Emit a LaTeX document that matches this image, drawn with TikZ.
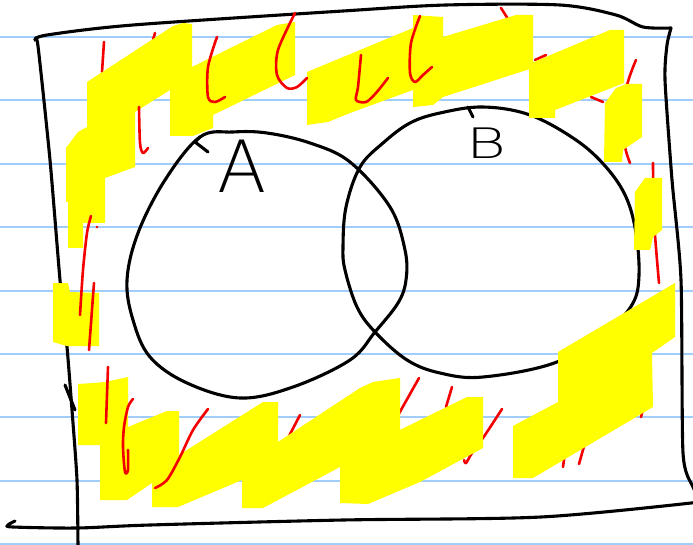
\documentclass[tikz,border=0pt]{standalone}
\usepackage{fontspec}
\newfontfamily\thinfont{DejaVu Sans ExtraLight}
\definecolor{rulecol}{RGB}{160,205,250}
\definecolor{redcol}{RGB}{245,0,0}
\definecolor{hlcol}{RGB}{255,255,0}
\begin{document}
\begin{tikzpicture}[x=1pt,y=-1pt,
  rule/.style={draw=rulecol, line width=1.8pt},
  ink/.style={draw=black, line width=3.1pt, line cap=round, line join=round},
  redink/.style={draw=redcol, line width=2.6pt, line cap=round, line join=round},
  hl/.style={fill=hlcol, draw=none},
  lettr/.style={inner sep=0pt, text=black}]
\useasboundingbox (0,0) rectangle (693,545);
\clip (0,0) rectangle (693,545);
\fill[white] (0,0) rectangle (693,545);
% ruled paper
\foreach \y in {37,100,164,227,291,354,417,481,544}
  \draw[rule] (0,\y) -- (693,\y);
% frame
\draw[ink] plot[smooth, tension=0.5] coordinates {(35,40) (47,35) (133,25) (343,11) (446,5) (560,5) (616,15) (643,27) (671,28)};
\draw[ink] plot[smooth, tension=0.4] coordinates {(671,28) (667,45) (665,80) (672,180) (681,280) (683,453) (693,487) (700,500)};
\draw[ink] plot[smooth, tension=0.5] coordinates {(700,502) (541,517) (343,520) (150,525) (77,528) (13,527) (8,525) (15,521)};
\draw[ink] plot[smooth, tension=0.4] coordinates {(35,40) (38,46) (50,160) (60,280) (67,347) (72,410) (77,480) (78,548)};
\draw[ink] (65,385) -- (75,410);
% circle A
\draw[ink] plot[smooth cycle, tension=0.6] coordinates {(200,137) (233,132) (267,133) (310,143) (350,162) (390,207) (405,250) (406,280) (398,303) (375,332) (350,360) (293,387) (240,398) (187,383) (150,357) (133,320) (127,280) (138,233) (165,180)};
\draw[ink] (200,137) -- (195,142) -- (208,152);
% circle B
\draw[ink] plot[smooth cycle, tension=0.6] coordinates {(440,113) (483,107) (530,115) (576,140) (606,167) (626,197) (636,233) (639,275) (633,303) (610,328) (557,362) (483,377) (440,373) (407,360) (375,332) (357,307) (345,270) (343,247) (346,207) (360,167) (383,143) (410,123)};
\draw[ink] (468,107) -- (473,117);
% labels
\node[lettr, font=\thinfont\fontsize{72}{72}\selectfont] (labA) at (242,166) {A};
\node[lettr, font=\thinfont\fontsize{42}{42}\selectfont, xscale=1.45] (labB) at (486,143) {B};
% red marks under the highlighter
\draw[redink] (104,42) -- (102,72);
\draw[redink] (155,33) -- (153,40);
\draw[redink] (501,8) -- (508,19);
\draw[redink] (535,60) -- (546,55);
\draw[redink] (591,97) -- (603,102);
\draw[redink] plot[smooth] coordinates {(636,60) (626,90) (624,140) (630,163)};
\draw[redink] plot[smooth] coordinates {(653,163) (654,220) (659,283)};
\draw[redink] (300,415) -- (287,440);
\draw[redink] (419,378) -- (383,442);
\draw[redink] (452,387) -- (446,407);
\draw[redink] plot[smooth] coordinates {(502,409) (485,435) (472,453) (466,463) (464,460)};
\draw[redink] (590,425) -- (579,464);
\draw[redink] (566,445) -- (563,467);
\draw[redink] (644,405) -- (641,417);
% highlighter
\fill[hl] (87,82) -- (173,26) -- (183,23) -- (192,24) -- (192,67) -- (277,25) -- (295,22) -- (295,75) -- (213,115) -- (213,128) -- (193,136) -- (170,136) -- (170,90) -- (135,112) -- (135,167) -- (105,178) -- (105,223) -- (83,223) -- (83,248) -- (68,248) -- (68,202) -- (66,202) -- (66,148) -- (78,132) -- (87,127) -- cycle;
\fill[hl] (307,72) -- (413,28) -- (413,15) -- (443,17) -- (443,37) -- (516,15) -- (533,15) -- (533,68) -- (443,97) -- (433,105) -- (413,107) -- (413,90) -- (350,113) -- (328,122) -- (307,125) -- cycle;
\fill[hl] (529,64) -- (610,30) -- (624,30) -- (624,83) -- (555,110) -- (555,118) -- (529,118) -- cycle;
\fill[hl] (605,103) -- (616,88) -- (626,84) -- (642,84) -- (642,137) -- (623,150) -- (622,162) -- (604,162) -- cycle;
\fill[hl] (635,192) -- (645,178) -- (662,178) -- (662,230) -- (653,237) -- (650,250) -- (634,250) -- cycle;
\fill[hl] (53,283) -- (68,283) -- (70,292) -- (99,293) -- (99,346) -- (67,346) -- (53,342) -- cycle;
\fill[hl] (78,384) -- (93,383) -- (105,382) -- (128,377) -- (128,427) -- (167,411) -- (179,411) -- (179,455) -- (263,402) -- (278,402) -- (278,442) -- (360,388) -- (373,382) -- (400,378) -- (400,432) -- (355,452) -- (467,397) -- (483,397) -- (483,448) -- (420,482) -- (368,504) -- (340,503) -- (340,467) -- (263,508) -- (242,508) -- (242,480) -- (178,507) -- (152,507) -- (152,483) -- (127,500) -- (100,500) -- (100,445) -- (78,445) -- cycle;
\fill[hl] (513,426) -- (558,402) -- (558,352) -- (675,283) -- (675,337) -- (652,353) -- (653,407) -- (533,478) -- (513,478) -- cycle;
% red marks over the highlighter
\draw[redink] plot[smooth] coordinates {(139,107) (140,143) (143,153) (148,148)};
\draw[redink] plot[smooth] coordinates {(217,37) (208,67) (208,97) (215,102) (225,97)};
\draw[redink] plot[smooth] coordinates {(295,13) (278,50) (277,75) (287,88) (297,87) (307,78)};
\draw[redink] plot[smooth] coordinates {(420,16) (411,43) (410,73) (415,82) (423,75) (432,67)};
\draw[redink] plot[smooth] coordinates {(361,55) (358,87) (356,100) (366,102) (376,93) (388,78)};
\draw[redink] plot[smooth] coordinates {(91,216) (87,233) (83,270) (80,315)};
\fill[redcol] (97,227) circle (1.4pt);
\draw[redink] (94,283) -- (89,350);
\draw[redink] (108,367) -- (106,423);
\draw[redink] plot[smooth] coordinates {(133,399) (128,407) (124,427) (123,447) (125,472) (128,470) (128,450)};
\draw[redink] plot[smooth] coordinates {(208,409) (193,430) (180,457) (167,480) (155,488)};
\end{tikzpicture}
\end{document}
